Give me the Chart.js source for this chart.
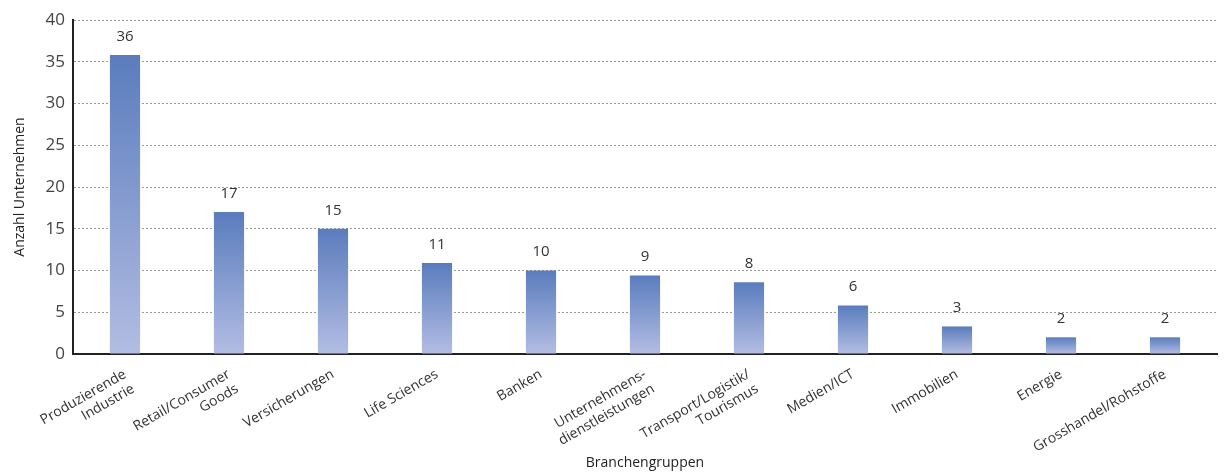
<!DOCTYPE html>
<html><head><meta charset="utf-8">
<script src="https://cdn.jsdelivr.net/npm/chart.js@4/dist/chart.umd.min.js"></script>
<style>html,body{margin:0;padding:0;background:#fff}#w{width:1225px;height:473px}</style>
</head><body><div id="w"><canvas id="c"></canvas></div>
<script>
const categories = [["Produzierende","Industrie"],["Retail/Consumer","Goods"],"Versicherungen","Life Sciences","Banken",["Unternehmens-","dienstleistungen"],["Transport/Logistik/","Tourismus"],"Medien/ICT","Immobilien","Energie","Grosshandel/Rohstoffe"];
const barHeights = [35.8,17,15,10.9,10,9.4,8.6,5.8,3.3,2,2];
const valueLabels = [36,17,15,11,10,9,8,6,3,2,2];
const yTicks = [0,5,10,15,20,25,30,35,40];
const font = "'Open Sans', sans-serif";
const labelPlugin = {id:'lbl', afterDatasetsDraw(ch){
  const ctx=ch.ctx; const meta=ch.getDatasetMeta(0);
  ctx.save(); ctx.fillStyle='#333'; ctx.font="15px "+font; ctx.textAlign='center'; ctx.textBaseline='bottom';
  meta.data.forEach((b,i)=>ctx.fillText(String(valueLabels[i]), b.x, b.y-11));
  ctx.restore();
}};
new Chart(document.getElementById('c'),{
  type:'bar',
  data:{labels:categories,datasets:[{data:barHeights,
    backgroundColor:(c)=>{const ch=c.chart;const a=ch.chartArea;if(!a||c.type!=='data')return '#7890c8';
      const top=ch.scales.y.getPixelForValue(c.raw);
      const g=ch.ctx.createLinearGradient(0,top,0,a.bottom);
      g.addColorStop(0,'#5a7cbd');g.addColorStop(1,'#b3bde3');return g;},
    borderWidth:0,barPercentage:0.29,categoryPercentage:1}]},
  options:{responsive:true,maintainAspectRatio:false,animation:false,
    layout:{padding:{left:8,right:8,top:20,bottom:0}},
    plugins:{legend:{display:false},tooltip:{enabled:false}},
    scales:{
      x:{grid:{display:false},border:{color:'#222',width:2},
        afterFit(ax){ax.height=119;},
        ticks:{color:'#333',font:{family:font,size:14},minRotation:30,maxRotation:30,autoSkip:false,padding:4},
        title:{display:true,text:'Branchengruppen',color:'#222',font:{family:font,size:14},padding:{top:0,bottom:2}}},
      y:{min:0,max:40,border:{color:'#222',width:2,dash:[2,2]},
        afterBuildTicks(ax){const t=[];for(let v=0;v<=40;v+=2.5)t.push({value:v});ax.ticks=t;},
        afterFit(ax){ax.width=65;},
        grid:{color:'#999',lineWidth:1,drawTicks:false},
        ticks:{color:'#444',font:{family:font,size:17},padding:8,
          callback:(v)=>yTicks.includes(v)?String(v):''},
        title:{display:true,text:'Anzahl Unternehmen',color:'#222',font:{family:font,size:14},padding:{bottom:2}}}
    }},
  plugins:[labelPlugin]
});
</script></body></html>
